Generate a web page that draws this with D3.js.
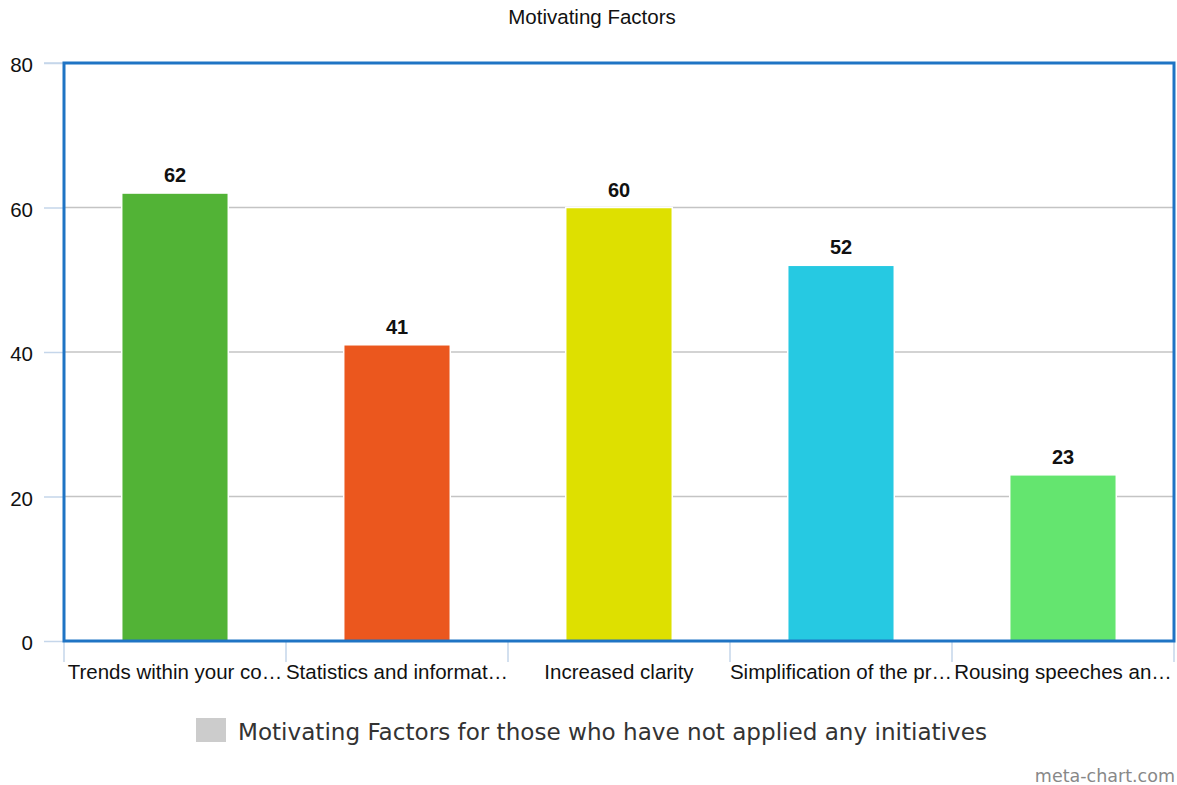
<!DOCTYPE html>
<html>
<head>
<meta charset="utf-8">
<script src="https://cdn.jsdelivr.net/npm/d3@7"></script>
<style>
  html, body { margin: 0; padding: 0; background: #fff; }
  svg { display: block; }
</style>
</head>
<body>
<svg id="chart" width="1177" height="785"></svg>
<script>
// Chart data
const categories = [
  "Trends within your co…",
  "Statistics and informat…",
  "Increased clarity",
  "Simplification of the pr…",
  "Rousing speeches an…"
];
const values = [62, 41, 60, 52, 23];
const barColors = ["#52b336", "#eb571e", "#dee000", "#26c9e2", "#64e56f"];
const yTicks = [0, 20, 40, 60, 80];
const chartTitle = "Motivating Factors";
const legendLabel = "Motivating Factors for those who have not applied any initiatives";
const creditText = "meta-chart.com";

const svg = d3.select("#chart");
const plot = { left: 64, right: 1174, top: 63, bottom: 641 };
const sans = "Liberation Sans, Arial, sans-serif";
const dejavu = "DejaVu Sans, sans-serif";

const x = d3.scaleBand()
  .domain(categories)
  .range([plot.left, plot.right])
  .paddingInner(0.52)
  .paddingOuter(0.26);

const y = d3.scaleLinear()
  .domain([0, 80])
  .range([plot.bottom, plot.top]);

// Title
svg.append("text")
  .attr("x", 592).attr("y", 24)
  .attr("text-anchor", "middle")
  .attr("font-family", sans)
  .attr("font-size", 20.5)
  .attr("fill", "#111")
  .text(chartTitle);

// Horizontal gridlines
svg.append("g")
  .selectAll("line")
  .data(yTicks.filter(d => d > 0 && d < 80))
  .join("line")
  .attr("x1", plot.left).attr("x2", plot.right)
  .attr("y1", d => y(d)).attr("y2", d => y(d))
  .attr("stroke", "#c4c4c4")
  .attr("stroke-width", 1.5);

// Y axis: labels and short ticks
const yAxis = d3.axisLeft(y)
  .tickValues(yTicks)
  .tickSize(20)
  .tickPadding(11);
const gy = svg.append("g")
  .attr("transform", `translate(${plot.left},0)`)
  .call(yAxis);
gy.select(".domain").remove();
gy.selectAll(".tick line").attr("stroke", "#c5d6ea").attr("stroke-width", 1.5);
gy.selectAll(".tick text")
  .attr("font-family", sans)
  .attr("font-size", 20.5)
  .attr("dy", "0.42em")
  .attr("fill", "#111");

// Bars
svg.append("g")
  .selectAll("rect")
  .data(values)
  .join("rect")
  .attr("x", (d, i) => x(categories[i]))
  .attr("y", d => y(d))
  .attr("width", x.bandwidth())
  .attr("height", d => y(0) - y(d))
  .attr("fill", (d, i) => barColors[i])
  .attr("stroke", "#fff")
  .attr("stroke-width", 1.5);

// Value labels
svg.append("g")
  .selectAll("text")
  .data(values)
  .join("text")
  .attr("x", (d, i) => x(categories[i]) + x.bandwidth() / 2)
  .attr("y", d => y(d) - 11)
  .attr("text-anchor", "middle")
  .attr("font-family", sans)
  .attr("font-weight", "bold")
  .attr("font-size", 20)
  .attr("fill", "#111")
  .text(d => d);

// X axis: category labels and boundary ticks
const boundaries = d3.range(categories.length + 1)
  .map(i => plot.left + i * (plot.right - plot.left) / categories.length);
svg.append("g")
  .selectAll("line")
  .data(boundaries)
  .join("line")
  .attr("x1", d => d).attr("x2", d => d)
  .attr("y1", plot.bottom).attr("y2", plot.bottom + 21)
  .attr("stroke", "#c5d6ea")
  .attr("stroke-width", 1.5);

svg.append("g")
  .selectAll("text")
  .data(categories)
  .join("text")
  .attr("x", d => x(d) + x.bandwidth() / 2)
  .attr("y", plot.bottom + 38)
  .attr("text-anchor", "middle")
  .attr("font-family", sans)
  .attr("font-size", 20.5)
  .attr("fill", "#111")
  .text(d => d);

// Top reference line at 80
svg.append("line")
  .attr("x1", plot.left - 20).attr("x2", plot.right)
  .attr("y1", y(80)).attr("y2", y(80))
  .attr("stroke", "#c5d6ea").attr("stroke-width", 1.5);

// Plot frame
svg.append("rect")
  .attr("x", plot.left).attr("y", plot.top)
  .attr("width", plot.right - plot.left)
  .attr("height", plot.bottom - plot.top)
  .attr("fill", "none")
  .attr("stroke", "#1f74c4")
  .attr("stroke-width", 3);

// Legend
const legend = svg.append("g").attr("transform", "translate(196,718)");
legend.append("rect")
  .attr("width", 30).attr("height", 24)
  .attr("fill", "#cccccc");
legend.append("text")
  .attr("x", 42).attr("y", 22)
  .attr("font-family", dejavu)
  .attr("font-size", 23.1)
  .attr("fill", "#333")
  .text(legendLabel);

// Credit
svg.append("text")
  .attr("x", 1175).attr("y", 782)
  .attr("text-anchor", "end")
  .attr("font-family", dejavu)
  .attr("font-size", 17.5)
  .attr("fill", "#888")
  .text(creditText);
</script>
</body>
</html>
